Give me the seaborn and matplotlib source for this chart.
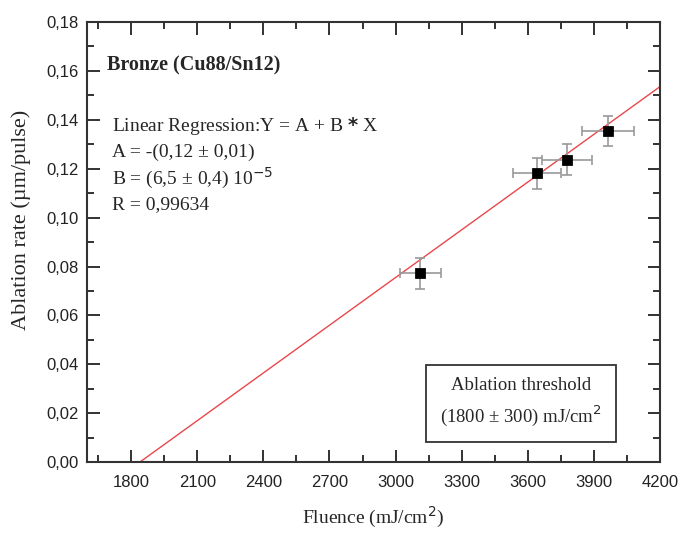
import numpy as np
import pandas as pd
import matplotlib
matplotlib.use('Agg')
import matplotlib.pyplot as plt
from matplotlib.ticker import MultipleLocator, FuncFormatter
import seaborn as sns

fluence = [3112, 3640, 3777, 3965]
fluence_err = [93, 109, 113, 119]
rate = [0.0772, 0.1181, 0.1236, 0.1354]
rate_err = [0.0064, 0.0063, 0.0063, 0.0063]

# linear regression Y = A + B*X
fit_a = -0.1195
fit_b = 6.5e-5
fit_x = [1600, 4200]

sns.set_style('ticks')
serif = ['Liberation Serif', 'DejaVu Serif']
sans = ['Liberation Sans', 'DejaVu Sans']
plt.rcParams['font.family'] = sans

df = pd.DataFrame({'fluence': fluence, 'rate': rate})
line_df = pd.DataFrame({'x': fit_x, 'y': [fit_a + fit_b * x for x in fit_x]})

fig = plt.figure(figsize=(6.81, 5.47), dpi=100)
ax = fig.add_axes([0.128, 0.155, 0.841, 0.805])

sns.lineplot(data=line_df, x='x', y='y', ax=ax, color='#e8474c', linewidth=1.0)
ax.errorbar(fluence, rate, xerr=fluence_err, yerr=rate_err, fmt='none',
            ecolor='#999999', elinewidth=1.2, capsize=3.5, capthick=1.2, zorder=3)
sns.scatterplot(data=df, x='fluence', y='rate', ax=ax, marker='s', s=48,
                color='black', edgecolor='black', zorder=4)

ax.set_xlim(1600, 4200)
ax.set_ylim(0, 0.18)
ax.xaxis.set_major_locator(MultipleLocator(300))
ax.xaxis.set_minor_locator(MultipleLocator(150))
ax.yaxis.set_major_locator(MultipleLocator(0.02))
ax.yaxis.set_minor_locator(MultipleLocator(0.01))
ax.xaxis.set_major_formatter(FuncFormatter(lambda v, p: '' if v < 1700 else f'{v:.0f}'))
ax.yaxis.set_major_formatter(FuncFormatter(lambda v, p: f'{v:.2f}'.replace('.', ',')))
ax.tick_params(which='both', direction='in', top=True, right=True, width=1.3,
               labelsize=12, colors='#222222')
ax.tick_params(which='major', length=9)
ax.tick_params(axis='x', which='major', pad=9)
ax.tick_params(axis='y', which='major', pad=6)
ax.tick_params(which='minor', length=5)
for s in ax.spines.values():
    s.set_linewidth(1.5)
    s.set_color('#333333')

ax.set_xlabel('Fluence (mJ/cm$^2$)', family=serif, fontsize=14, labelpad=11)
ax.set_ylabel('Ablation rate (\u00b5m/pulse)', family=serif, fontsize=16)
ax.yaxis.set_label_coords(-0.098, 0.55)

ax.text(1692, 0.162, 'Bronze (Cu88/Sn12)', family=serif, fontsize=14.5,
        fontweight='bold', va='center')
eq_lines = ['Linear Regression:Y = A + B $\\mathbf{*}$ X',
            'A = -(0,12 \u00b1 0,01)',
            'B = (6,5 \u00b1 0,4) 10$^{-5}$',
            'R = 0,99634']
for i, t in enumerate(eq_lines):
    ax.text(1714, 0.1375 - i * 0.0107, t, family=serif, fontsize=14, va='center')

ax.text(3570, 0.0245, 'Ablation threshold\n(1800 \u00b1 300) mJ/cm$^2$',
        family=serif, fontsize=13.5, ha='center', va='center', linespacing=1.5,
        bbox=dict(boxstyle='square,pad=0.75', facecolor='white',
                  edgecolor='#333333', linewidth=1.3))

plt.savefig('out.png', dpi=100)
